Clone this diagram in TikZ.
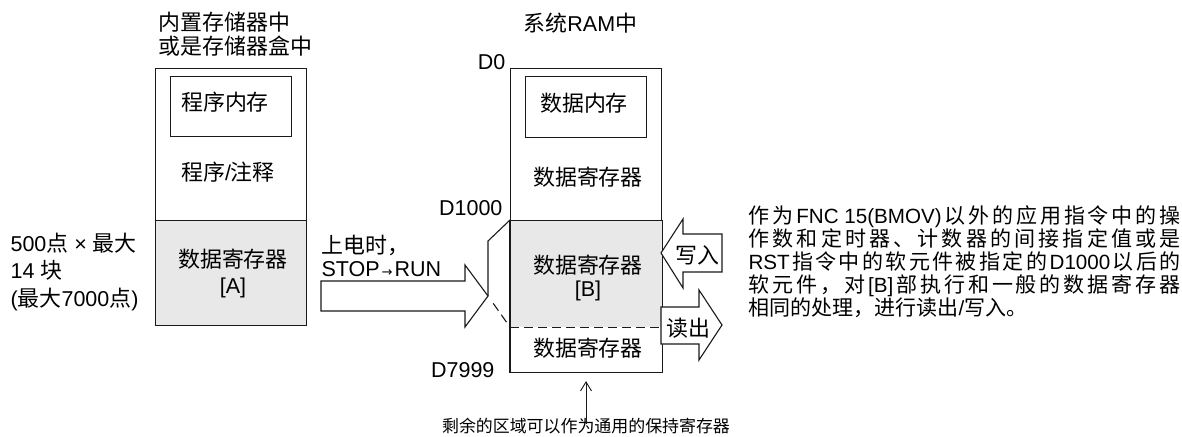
\documentclass[tikz,border=0pt]{standalone}
\usepackage{fontspec}
\setmainfont{Liberation Sans}
\newfontfamily\cjk{Noto Sans CJK SC}[Scale=1.02]
\newfontfamily\lat{Liberation Sans}
\newfontfamily\symfont{DejaVu Sans}
\usetikzlibrary{arrows.meta}
\definecolor{linecol}{HTML}{1A1A1A}
\definecolor{grayfill}{HTML}{E8E8E8}
\def\stopmark{\relax}
\def\spreadfirst#1{{#1}\spreadrest}
\def\spreadrest#1{\def\tmparg{#1}\ifx\tmparg\stopmark\else\hspace{0pt plus 1fil}{#1}\expandafter\spreadrest\fi}
\newcommand\spreadline[1]{\makebox[432pt][s]{\spreadfirst#1\relax}}
\newcommand\smallarrow{\hspace{2pt}{\symfont\fontsize{13}{13}\selectfont →}\hspace{2pt}}
\begin{document}
\begin{tikzpicture}[x=1pt,y=-1pt,line width=1.1pt,draw=linecol,
  region/.style={draw=linecol,anchor=north west,inner sep=0pt},
  txt/.style={inner sep=0pt,font=\fontsize{21.5}{23}\selectfont},
  block/.style={draw=linecol,fill=white,line join=miter}]
\useasboundingbox (0,0) rectangle (1182,436);

% left column (memory)
\node[region,minimum width=151pt,minimum height=152pt] (progArea) at (155,68) {};
\node[region,fill=grayfill,minimum width=151pt,minimum height=105pt] (regA) at (155,220) {};
\node[region,minimum width=121pt,minimum height=60pt] (progMem) at (170,76) {};

\node[txt,anchor=west,align=left,font=\fontsize{21.5}{24}\selectfont] (hdrL) at (158,34) {{\cjk 内置存储器中}\\{\cjk 或是存储器盒中}};
\node[txt] (progMemT) at (225,102) {\cjk 程序内存};
\node[txt] (progT) at (228,172) {{\cjk 程序}/{\cjk 注释}};
\node[txt,align=center,font=\fontsize{21.5}{26}\selectfont] (regAT) at (233,273) {{\cjk 数据寄存器}\\{[A]}};

\node[txt,anchor=west,align=left,font=\fontsize{21.5}{27.5}\selectfont] (ptsT) at (10,272) {500{\cjk 点} × {\cjk 最大}\\14 {\cjk 块}\\({\cjk 最大}7000{\cjk 点})};

% right column (system RAM)
\node[region,minimum width=151pt,minimum height=152pt] (ramTop) at (510,68) {};
\node[region,draw=none,fill=grayfill,minimum width=151pt,minimum height=106pt] (regB) at (510,220) {};
\node[region,draw=none,minimum width=151pt,minimum height=45pt] (regRest) at (510,326) {};
\draw (regB.north west) -- (regRest.south west) -- (regRest.south east) -- (regB.north east);
\draw[dash pattern=on 9pt off 5pt] (regB.south west) -- (regB.south east);
\node[region,minimum width=121pt,minimum height=61pt] (dataMem) at (525,76) {};

\node[txt,anchor=west] (hdrR) at (523,23) {{\cjk 系统}RAM{\cjk 中}};
\node[txt,anchor=east] (d0) at (506,62) {D0};
\node[txt,anchor=east] (d1000) at (503,208) {D1000};
\node[txt,anchor=east] (d7999) at (495,370) {D7999};
\node[txt] (dataMemT) at (584,103) {\cjk 数据内存};
\node[txt] (regTopT) at (588,177) {\cjk 数据寄存器};
\node[txt,align=center,font=\fontsize{21.5}{23}\selectfont] (regBT) at (588,278) {{\cjk 数据寄存器}\\{[B]}};
\node[txt] (regRestT) at (588,348) {\cjk 数据寄存器};

% transfer arrow STOP->RUN
\node[txt,anchor=west,align=left,font=\fontsize{21.5}{23}\selectfont] (stopT) at (321,256) {{\cjk 上电时，}\\STOP\smallarrow RUN};
\draw[block] (321,281) -- (465,281) -- (465,265) -- (488,296) coordinate (tip) -- (465,327) -- (465,311) -- (321,311) -- cycle;
\draw (regB.north west) -- (488,241) -- (tip);
\draw[dash pattern=on 9pt off 5pt,shorten <=9pt] (tip) -- (regB.south west);

% write / read arrows
\draw[block] (661,253) -- (683,219) -- (683,234) -- (722,234) -- (722,272) -- (683,272) -- (683,288) -- cycle;
\node[txt] (writeT) at (697,255) {\cjk 写入};
\draw[block] (661,307) -- (699,307) -- (699,290) -- (722,325) -- (699,360) -- (699,344) -- (661,344) -- cycle;
\node[txt] (readT) at (688,328) {\cjk 读出};

% description
\node[txt,anchor=west,align=left,font={\fontsize{20.6}{23}\selectfont\cjk}] (desc) at (748,262) {%
\spreadline{作为{\lat FNC 15(BMOV)}以外的应用指令中的操}\\
\spreadline{作数和定时器、计数器的间接指定值或是}\\
\spreadline{{\lat RST}指令中的软元件被指定的{\lat D1000}以后的}\\
\spreadline{软元件，对{\lat [B]}部执行和一般的数据寄存器}\\
相同的处理，进行读出{\lat /}写入。};

% note below
\node[txt,font=\fontsize{16.6}{18}\selectfont] (note) at (586,426) {\cjk 剩余的区域可以作为通用的保持寄存器};
\draw[-{Straight Barb[length=9pt,width=11pt]},line width=0.9pt,shorten >=9pt] ([yshift=-6pt]note.north) -- (note.north |- regRest.south);
\end{tikzpicture}
\end{document}
